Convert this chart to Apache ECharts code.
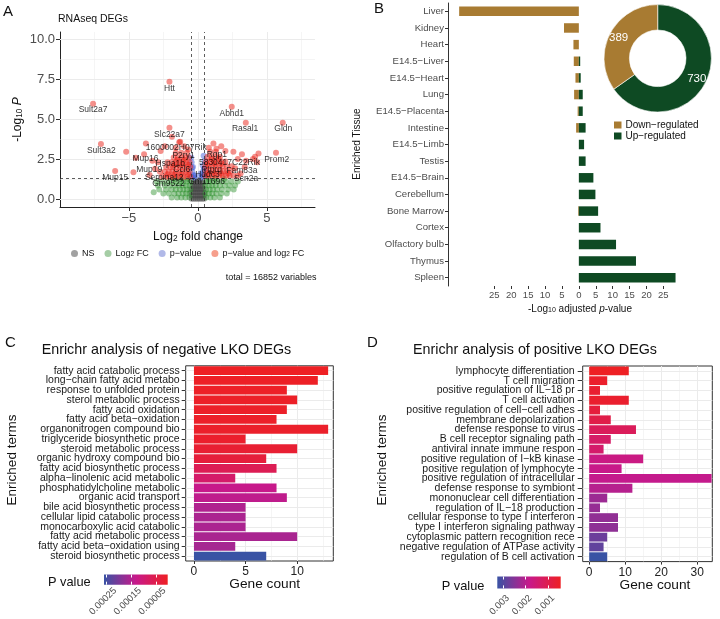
<!DOCTYPE html>
<html><head><meta charset="utf-8">
<script src="https://cdn.jsdelivr.net/npm/echarts@6/dist/echarts.min.js"></script>
<style>html,body{margin:0;padding:0;background:#fff}#c{width:720px;height:619px}</style>
</head><body><div id="c"></div>
<script>
const FONT = '"Liberation Sans", Arial, sans-serif';

// ---------- Panel A: volcano plot, points are [log2 fold change, -log10 P] ----------
const nsPoints = [
 [-0.45,0.02],[-0.3,0.02],[-0.15,0.02],[0,0.02],[0.15,0.02],[0.3,0.02],[0.45,0.02],
 [-0.45,0.22],[-0.3,0.22],[-0.15,0.22],[0,0.22],[0.15,0.22],[0.3,0.22],[0.45,0.22],
 [-0.45,0.42],[-0.3,0.42],[-0.15,0.42],[0,0.42],[0.15,0.42],[0.3,0.42],[0.45,0.42],
 [-0.42,0.62],[-0.28,0.62],[-0.14,0.62],[0,0.62],[0.14,0.62],[0.28,0.62],[0.42,0.62],
 [-0.4,0.82],[-0.25,0.82],[-0.1,0.82],[0.05,0.82],[0.2,0.82],[0.35,0.82],
 [-0.35,1.02],[-0.2,1.02],[-0.05,1.02],[0.1,1.02],[0.25,1.02],[0.4,1.02],
 [-0.2,1.2],[0.15,1.2]
];
const fcPoints = [
 [-0.6,0.1],[-0.9,0.1],[-1.2,0.1],[-1.5,0.1],[-1.9,0.1],
 [-0.6,0.35],[-0.85,0.35],[-1.1,0.35],[-1.4,0.35],[-1.7,0.35],[-2.1,0.35],[-2.5,0.35],
 [-0.55,0.6],[-0.8,0.6],[-1.05,0.6],[-1.3,0.6],[-1.6,0.6],[-1.9,0.6],[-2.3,0.6],[-2.8,0.6],
 [-0.6,0.85],[-0.85,0.85],[-1.1,0.85],[-1.35,0.85],[-1.65,0.85],[-2.0,0.85],[-2.4,0.85],[-2.9,0.85],
 [-0.55,1.1],[-0.8,1.1],[-1.05,1.1],[-1.3,1.1],[-1.6,1.1],[-1.9,1.1],[-2.2,1.1],[-2.6,1.1],[-3.0,1.1],
 [-0.7,1.25],[-1.2,1.25],[-1.7,1.25],[-3.2,0.42],
 [0.6,0.1],[0.9,0.1],[1.2,0.1],[1.6,0.1],
 [0.55,0.35],[0.8,0.35],[1.05,0.35],[1.35,0.35],[1.7,0.35],[2.1,0.35],
 [0.6,0.6],[0.85,0.6],[1.1,0.6],[1.4,0.6],[1.75,0.6],[2.2,0.6],[2.6,0.6],
 [0.55,0.85],[0.8,0.85],[1.05,0.85],[1.3,0.85],[1.6,0.85],[1.95,0.85],[2.3,0.85],[2.7,0.85],
 [0.6,1.1],[0.85,1.1],[1.1,1.1],[1.4,1.1],[1.7,1.1],[2.05,1.1],[2.45,1.1],[2.9,1.1],
 [0.75,1.25],[1.25,1.25],[1.9,1.25]
];
const pPoints = [
 [-0.45,1.4],[-0.4,1.7],[-0.35,2.0],[-0.45,2.3],[-0.3,1.5],[-0.48,2.6],[-0.25,1.35],
 [0.45,1.45],[0.4,1.8],[0.35,2.1],[0.48,2.4],[0.3,1.5],[0.42,2.7],[0.25,1.35],
 [-0.2,1.45],[0.2,1.6],[-0.42,1.95],[0.46,1.9]
];
const bothPoints = [
 [-0.55,1.4],[-0.8,1.4],[-1.05,1.4],[-1.3,1.4],[-1.55,1.4],[-1.8,1.4],[-2.05,1.4],[-2.3,1.4],[-2.6,1.4],
 [-0.6,1.7],[-0.85,1.7],[-1.1,1.7],[-1.35,1.7],[-1.6,1.7],[-1.85,1.7],[-2.1,1.7],[-2.4,1.7],[-2.75,1.7],
 [-0.55,2.0],[-0.8,2.0],[-1.05,2.0],[-1.3,2.0],[-1.55,2.0],[-1.8,2.0],[-2.0,2.0],[-2.3,2.0],
 [-0.6,2.3],[-0.85,2.3],[-1.1,2.3],[-1.35,2.3],[-1.6,2.3],[-1.9,2.3],[-2.2,2.3],
 [-0.65,2.6],[-0.9,2.6],[-1.15,2.6],[-1.45,2.6],[-1.75,2.6],
 [-0.8,2.9],[-1.2,2.9],[-1.6,2.9],
 [-0.7,1.55],[-1.2,1.55],[-1.7,1.55],[-2.2,1.55],[-0.7,2.15],[-1.2,2.15],[-1.7,2.15],[-1.0,2.45],[-1.5,2.45],
 [-7.6,5.96],[-7.03,3.44],[-6.0,1.75],[-5.2,2.96],[-4.67,1.67],[-4.5,2.58],[-3.77,3.48],
 [-2.06,7.33],[-2.06,4.46],[-1.88,3.9],[-1.28,3.58],[-2.4,3.3],[-1.6,3.2],[-1.0,3.3],
 [-0.7,3.1],[-3.3,2.4],[-3.9,2.8],[-3.1,1.9],[-3.5,1.5],[-2.9,2.3],[-2.7,3.0],[-1.35,3.55],
 [0.55,1.45],[0.8,1.45],[1.05,1.45],[1.3,1.45],[1.55,1.45],[1.8,1.45],[2.05,1.45],[2.3,1.45],[2.6,1.45],[2.9,1.45],
 [0.6,1.75],[0.85,1.75],[1.1,1.75],[1.35,1.75],[1.6,1.75],[1.85,1.75],[2.1,1.75],[2.4,1.75],
 [0.55,2.05],[0.8,2.05],[1.05,2.05],[1.3,2.05],[1.55,2.05],[1.8,2.05],[2.1,2.05],[2.45,2.05],
 [0.6,2.35],[0.9,2.35],[1.15,2.35],[1.4,2.35],[1.7,2.35],[2.0,2.35],
 [0.7,2.65],[1.0,2.65],[1.3,2.65],[1.6,2.65],
 [0.9,2.95],[1.3,2.95],
 [0.7,1.6],[1.2,1.6],[1.7,1.6],[2.2,1.6],[0.7,2.2],[1.2,2.2],[1.7,2.2],[1.0,2.5],[1.5,2.5],
 [2.46,5.77],[3.48,4.77],[6.16,4.77],[5.67,2.9],[1.13,3.48],[1.35,3.15],[1.7,3.3],[2.0,3.0],
 [2.58,2.96],[4.15,2.65],[4.4,2.85],[4.3,2.3],[4.0,2.5],[3.5,2.4],[3.2,2.8],[2.7,1.92],
 [3.1,1.6],[0.8,3.2],[2.9,2.5],[3.4,2.0]
];
const geneLabels = [
 ['Htt',-2.06,6.88],['Sult2a7',-7.6,5.56],['Abhd1',2.46,5.31],['Rasal1',3.43,4.39],
 ['Gldn',6.2,4.38],['Slc22a7',-2.06,4.0],['1600002H07Rik',-1.57,3.21],['Sult3a2',-7.0,3.02],
 ['Prom2',5.72,2.44],['Rgp1',1.38,2.75],['P2ry1',-1.04,2.69],['Mup16',-3.8,2.52],
 ['5830417C22Rik',2.29,2.27],['Hspa1b',-2.0,2.23],['Ccl6',-1.16,1.81],['Mup19',-3.53,1.81],
 ['Ptprq',1.01,1.81],['Fam83a',3.19,1.75],['Mup15',-6.0,1.33],['Serpina12',-2.44,1.33],
 ['Hddc3',0.7,1.5],['Scn2a',3.5,1.29],['Gm9522',-2.13,0.98],['Gm11696',0.63,1.08]
];
const volcanoXTicks = [-5, 0, 5];
const volcanoYTicks = [0, 2.5, 5, 7.5, 10];
const volcanoMinorX = [-7.5, -2.5, 2.5, 7.5];
const volcanoMinorY = [1.25, 3.75, 6.25, 8.75];
const fcCutoff = 0.5;
const pCutoff = 1.301;
const totalVariables = 16852;

// ---------- Panel B: tissue enrichment ----------
const tissues = ['Liver','Kidney','Heart','E14.5−Liver','E14.5−Heart','Lung','E14.5−Placenta','Intestine',
 'E14.5−Limb','Testis','E14.5−Brain','Cerebellum','Bone Marrow','Cortex','Olfactory bulb','Thymus','Spleen'];
const tissueDown = [35.4, 4.4, 1.6, 1.5, 1.0, 1.4, 0.35, 0.8, 0, 0, 0, 0, 0.2, 0, 0, 0, 0];
const tissueUp   = [0, 0, 0, 0.4, 0.55, 1.15, 1.15, 2.0, 1.55, 2.0, 4.3, 4.9, 5.7, 6.4, 11.0, 16.9, 28.6];
const tissueTicks = [-25, -20, -15, -10, -5, 0, 5, 10, 15, 20, 25];
const degNames = ['Up−regulated', 'Down−regulated'];
const degValues = [730, 389];

// ---------- Panel C: Enrichr negative ----------
const negTerms = ['fatty acid catabolic process','long−chain fatty acid metabo','response to unfolded protein',
 'sterol metabolic process','fatty acid oxidation','fatty acid beta−oxidation','organonitrogen compound bio',
 'triglyceride biosynthetic proce','steroid metabolic process','organic hydroxy compound bio',
 'fatty acid biosynthetic process','alpha−linolenic acid metabolic','phosphatidylcholine metabolic',
 'organic acid transport','bile acid biosynthetic process','cellular lipid catabolic process',
 'monocarboxylic acid catabolic','fatty acid metabolic process','fatty acid beta−oxidation using',
 'steroid biosynthetic process'];
const negCounts = [13,12,9,10,9,8,13,5,10,7,8,4,8,9,5,5,5,10,4,7];
const negP = [0.000002,0.000004,0.000006,0.000007,0.000008,0.00001,0.000011,0.000013,0.000021,0.000031,
 0.000062,0.000089,0.00013,0.000138,0.000152,0.000156,0.000156,0.000158,0.000162,0.00026];
const negCountTicks = [0, 5, 10];
const negCountMinor = [2.5, 7.5, 12.5];
const negPTicks = [0.00025, 0.00015, 0.00005];
const negPTickLabels = ['0.00025', '0.00015', '0.00005'];

// ---------- Panel D: Enrichr positive ----------
const posTerms = ['lymphocyte differentiation','T cell migration','positive regulation of IL−18 pr',
 'T cell activation','positive regulation of cell−cell adhes','membrane depolarization',
 'defense response to virus','B cell receptor signaling path','antiviral innate immune respon',
 'positive regulation of I−kB kinase','positive regulation of lymphocyte','positive regulation of intracellular',
 'defense response to symbiont','mononuclear cell differentiation','regulation of IL−18 production',
 'cellular response to type I interferon','type I interferon signaling pathway',
 'cytoplasmic pattern recognition rece','negative regulation of ATPase activity','regulation of B cell activation'];
const posCounts = [11,5,3,11,3,6,13,6,4,15,9,34,12,5,3,8,8,5,4,5];
const posP = [0.00045,0.00056,0.00062,0.00059,0.00079,0.00095,0.00118,0.00135,0.0014,0.00174,
 0.00182,0.00188,0.00202,0.00227,0.00233,0.00238,0.00241,0.00275,0.00286,0.00325];
const posCountTicks = [0, 10, 20, 30];
const posCountMinor = [5, 15, 25];
const posPTicks = [0.003, 0.002, 0.001];
const posPTickLabels = ['0.003', '0.002', '0.001'];

// ---------- colours ----------
const pColors = ['#EE2024', '#C7198B', '#3953A4'];
const brown = '#A87B32', dgreen = '#0E4A23';
const gridGrey = '#ebebeb';

// ---------- build option ----------
const chart = echarts.init(document.getElementById('c'), null, {width: 720, height: 619});

const outTick = (len) => ({show: true, length: len, lineStyle: {color: '#333', width: 1}});
const vLines = (arr, w) => arr.map(v => ({xAxis: v, lineStyle: {width: w}}));
const hLines = (arr, w) => arr.map(v => ({yAxis: v, lineStyle: {width: w}}));
const gridMark = (data) => ({silent: true, symbol: 'none', z: 1, label: {show: false},
  lineStyle: {color: gridGrey, type: 'solid', width: 1}, emphasis: {disabled: true}, data});
const minusFmt = v => (v < 0 ? '−' + Math.abs(v) : String(v));

const negMin = Math.min(...negP), negMax = Math.max(...negP);
const posMin = Math.min(...posP), posMax = Math.max(...posP);
const gradient = new echarts.graphic.LinearGradient(0, 0, 1, 0, [
  {offset: 0, color: pColors[2]}, {offset: 0.5, color: pColors[1]}, {offset: 1, color: pColors[0]}]);

const grids = [
  {left: 60, top: 32, width: 255, height: 175},
  {left: 448, top: 3, width: 238.7, height: 283},
  {left: 185.7, top: 365.8, width: 147.6, height: 195.2, show: true, borderColor: '#333', borderWidth: 1, backgroundColor: '#fff'},
  {left: 582.7, top: 366, width: 129.6, height: 195.6, show: true, borderColor: '#333', borderWidth: 1, backgroundColor: '#fff'},
  {left: 104, top: 574.5, width: 63.7, height: 17, show: true, borderWidth: 0, backgroundColor: gradient},
  {left: 497.3, top: 576.5, width: 63.4, height: 16.5, show: true, borderWidth: 0, backgroundColor: gradient}
];

const cbAxis = (gi, min, max, ticks, labels, pos) => ({
  gridIndex: gi, type: 'value', min, max, inverse: true, position: pos,
  axisLine: {show: false}, splitLine: {show: false},
  axisTick: {show: true, inside: true, length: 3, customValues: ticks, lineStyle: {color: '#fff', width: 1}},
  axisLabel: pos === 'bottom' ? {show: true, customValues: ticks, rotate: 45, align: 'center', verticalAlign: 'middle',
    margin: 13, padding: [0, 10, 0, 0], fontSize: 9.5, color: '#4d4d4d',
    formatter: v => labels[ticks.findIndex(t => Math.abs(t - v) < 1e-9)] || ''} : {show: false}
});

const xAxes = [
  {gridIndex: 0, type: 'value', min: -10, max: 8.5, splitLine: {show: false},
   axisLine: {onZero: false, lineStyle: {color: '#222'}}, axisTick: {...outTick(4), customValues: volcanoXTicks},
   axisLabel: {customValues: volcanoXTicks, formatter: minusFmt, fontSize: 13, color: '#4d4d4d', margin: 5}},
  {gridIndex: 1, type: 'value', min: -38.7, max: 31.9, splitLine: {show: false},
   axisLine: {onZero: false, lineStyle: {color: '#333'}}, axisTick: {...outTick(3), customValues: tissueTicks},
   axisLabel: {customValues: tissueTicks, formatter: v => String(Math.abs(v)), fontSize: 9.5, color: '#4d4d4d', margin: 4}},
  {gridIndex: 2, type: 'value', min: -0.8, max: 13.5, splitLine: {show: false},
   axisLine: {show: false, onZero: false}, axisTick: {...outTick(3), customValues: negCountTicks},
   axisLabel: {customValues: negCountTicks, fontSize: 12, color: '#222', margin: 5}},
  {gridIndex: 3, type: 'value', min: -1.8, max: 34.2, splitLine: {show: false},
   axisLine: {show: false, onZero: false}, axisTick: {...outTick(3), customValues: posCountTicks},
   axisLabel: {customValues: posCountTicks, fontSize: 12, color: '#222', margin: 5}},
  cbAxis(4, negMin, negMax, negPTicks, negPTickLabels, 'bottom'),
  cbAxis(4, negMin, negMax, negPTicks, negPTickLabels, 'top'),
  cbAxis(5, posMin, posMax, posPTicks, posPTickLabels, 'bottom'),
  cbAxis(5, posMin, posMax, posPTicks, posPTickLabels, 'top')
];

const catAxis = (gi, data, fs, color, margin, tickLen, showLine) => ({
  gridIndex: gi, type: 'category', data, inverse: true,
  axisLine: {show: showLine, onZero: false, lineStyle: {color: '#333'}},
  axisTick: {...outTick(tickLen), alignWithLabel: true, interval: 0},
  axisLabel: {interval: 0, fontSize: fs, color, margin},
  splitLine: {show: false}
});

const yAxes = [
  {gridIndex: 0, type: 'value', min: -0.5, max: 10.45, splitLine: {show: false},
   axisLine: {onZero: false, lineStyle: {color: '#222'}}, axisTick: {...outTick(4), customValues: volcanoYTicks},
   axisLabel: {customValues: volcanoYTicks, formatter: v => v.toFixed(1), fontSize: 13, color: '#4d4d4d', margin: 5}},
  catAxis(1, tissues, 9.6, '#4d4d4d', 4, 3, true),
  catAxis(2, negTerms, 10.5, '#1a1a1a', 6, 4, false),
  catAxis(3, posTerms, 10.5, '#1a1a1a', 8, 5, false),
  {gridIndex: 4, type: 'value', show: false, min: 0, max: 1},
  {gridIndex: 5, type: 'value', show: false, min: 0, max: 1}
];

const scatterBase = (name, data, color, extra) => Object.assign({
  name, type: 'scatter', xAxisIndex: 0, yAxisIndex: 0, data, symbolSize: 6,
  itemStyle: {color}, silent: true, z: 2
}, extra || {});

const series = [
  scatterBase('NS', nsPoints, 'rgba(70,70,70,0.6)', {
    markLine: gridMark([...vLines(volcanoXTicks, 1), ...vLines(volcanoMinorX, 0.5),
                        ...hLines(volcanoYTicks, 1), ...hLines(volcanoMinorY, 0.5)])}),
  scatterBase('Log2 FC', fcPoints, 'rgba(34,139,34,0.55)'),
  scatterBase('p−value', pPoints, 'rgba(65,95,215,0.6)'),
  scatterBase('p−value and log2 FC', bothPoints, 'rgba(232,30,20,0.62)'),
  {type: 'scatter', xAxisIndex: 0, yAxisIndex: 0, silent: true, z: 5, symbolSize: 1,
   itemStyle: {color: 'transparent'},
   data: geneLabels.map(g => ({name: g[0], value: [g[1], g[2]]})),
   label: {show: true, position: 'inside', formatter: '{b}', fontSize: 8.5, color: '#000'},
   markLine: {silent: true, symbol: 'none', z: 4, label: {show: false},
     lineStyle: {color: '#333', type: [3, 3], width: 0.8},
     data: [{xAxis: -fcCutoff}, {xAxis: fcCutoff}, {yAxis: pCutoff}]}},
  {name: 'Down', type: 'bar', xAxisIndex: 1, yAxisIndex: 1, stack: 'tissue', data: tissueDown.map(v => -v),
   barCategoryGap: '43%', itemStyle: {color: brown}, silent: true},
  {name: 'Up', type: 'bar', xAxisIndex: 1, yAxisIndex: 1, stack: 'tissue', data: tissueUp,
   barCategoryGap: '43%', itemStyle: {color: dgreen}, silent: true},
  {type: 'pie', center: [657.7, 58.3], radius: [28.3, 53.7], startAngle: 90, clockwise: true, silent: true,
   data: degNames.map((n, i) => ({name: n, value: degValues[i], itemStyle: {color: i === 0 ? dgreen : brown}})),
   itemStyle: {borderColor: '#fff', borderWidth: 0.6},
   label: {show: true, position: 'inside', formatter: '{c}', color: '#fff', fontSize: 11.5},
   labelLine: {show: false}},
  {type: 'bar', xAxisIndex: 2, yAxisIndex: 2, silent: true, barCategoryGap: '10%', z: 2,
   data: negCounts.map((c, i) => [c, i, negP[i]]), encode: {x: 0, y: 1},
   markLine: gridMark([...vLines(negCountTicks, 1), ...vLines(negCountMinor, 0.5),
                       ...negTerms.map(t => ({yAxis: t, lineStyle: {width: 1}}))])},
  {type: 'bar', xAxisIndex: 3, yAxisIndex: 3, silent: true, barCategoryGap: '10%', z: 2,
   data: posCounts.map((c, i) => [c, i, posP[i]]), encode: {x: 0, y: 1},
   markLine: gridMark([...vLines(posCountTicks, 1), ...vLines(posCountMinor, 0.5),
                       ...posTerms.map(t => ({yAxis: t, lineStyle: {width: 1}}))])}
];

const rich = (fs) => ({
  a: {fontSize: fs, fontFamily: FONT, fill: '#111'},
  s: {fontSize: fs * 0.7, fontFamily: FONT, fill: '#111', verticalAlign: 'bottom'},
  i: {fontSize: fs, fontFamily: FONT, fill: '#111', fontStyle: 'italic'}
});
const txt = (text, x, y, fs, opts) => Object.assign({
  type: 'text', x, y, silent: true,
  style: Object.assign({text, font: fs + 'px ' + FONT, fill: '#111', textAlign: 'left', textVerticalAlign: 'middle'}, (opts && opts.style) || {})
}, (opts && opts.el) || {});

const graphics = [
  txt('A', 3, 12, 15),
  txt('RNAseq DEGs', 58, 19, 10.5),
  txt('{a|Log}{s|2}{a| fold change}', 198, 237, 12, {style: {textAlign: 'center', rich: rich(12)}}),
  txt('{a|-Log}{s|10}{a| }{i|P}', 18, 119.5, 12, {style: {textAlign: 'center', rich: rich(12)}, el: {rotation: Math.PI / 2}}),
  txt('total = ' + totalVariables + ' variables', 316.5, 277.5, 9, {style: {textAlign: 'right'}}),
  txt('B', 374, 9, 15),
  txt('Enriched Tissue', 357, 144, 10, {style: {textAlign: 'center'}, el: {rotation: Math.PI / 2}}),
  txt('{a|-Log}{s|10}{a| adjusted }{i|p}{a|-value}', 580, 309, 10, {style: {textAlign: 'center', rich: rich(10)}}),
  txt('C', 5, 343, 15),
  txt('Enrichr analysis of negative LKO DEGs', 41.7, 350, 14.3),
  txt('Enriched terms', 12, 460, 13.5, {style: {textAlign: 'center'}, el: {rotation: Math.PI / 2}}),
  txt('Gene count', 264.7, 584.5, 13.7, {style: {textAlign: 'center'}}),
  txt('P value', 48, 582.5, 12.8),
  txt('D', 367, 343, 15),
  txt('Enrichr analysis of positive LKO DEGs', 413, 350, 14.3),
  txt('Enriched terms', 382, 460, 13.5, {style: {textAlign: 'center'}, el: {rotation: Math.PI / 2}}),
  txt('Gene count', 655, 585, 13.7, {style: {textAlign: 'center'}}),
  txt('P value', 441.7, 586, 12.8)
];

const option = {
  animation: false,
  backgroundColor: '#fff',
  textStyle: {fontFamily: FONT},
  grid: grids,
  xAxis: xAxes,
  yAxis: yAxes,
  series,
  visualMap: [
    {type: 'continuous', show: false, seriesIndex: 8, dimension: 2, min: negMin, max: negMax, inRange: {color: pColors}},
    {type: 'continuous', show: false, seriesIndex: 9, dimension: 2, min: posMin, max: posMax, inRange: {color: pColors}}
  ],
  legend: [
    {data: [{name: 'NS', itemStyle: {color: '#8a8a8a'}}, {name: 'Log2 FC', itemStyle: {color: '#8fc18f'}},
            {name: 'p−value', itemStyle: {color: '#9ea8e2'}}, {name: 'p−value and log2 FC', itemStyle: {color: '#f4876f'}}],
     left: 71, top: 249, padding: 0, itemWidth: 7, itemHeight: 7, icon: 'circle', itemGap: 10, selectedMode: false,
     textStyle: {fontSize: 9, color: '#111', padding: [0, 0, 0, -1],
       rich: {s: {fontSize: 6.5, verticalAlign: 'bottom', color: '#111'}}},
     formatter: n => n === 'Log2 FC' ? 'Log{s|2} FC' : (n === 'p−value and log2 FC' ? 'p−value and log{s|2} FC' : n)},
    {data: ['Down−regulated', 'Up−regulated'], left: 612, top: 119.5, padding: 0, orient: 'vertical',
     icon: 'rect', itemWidth: 9.5, itemHeight: 9, itemGap: 0, selectedMode: false,
     textStyle: {fontSize: 10, color: '#111', lineHeight: 9, padding: [0, 0, 0, -2]}}
  ],
  graphic: {elements: graphics}
};
chart.setOption(option);
</script></body></html>
